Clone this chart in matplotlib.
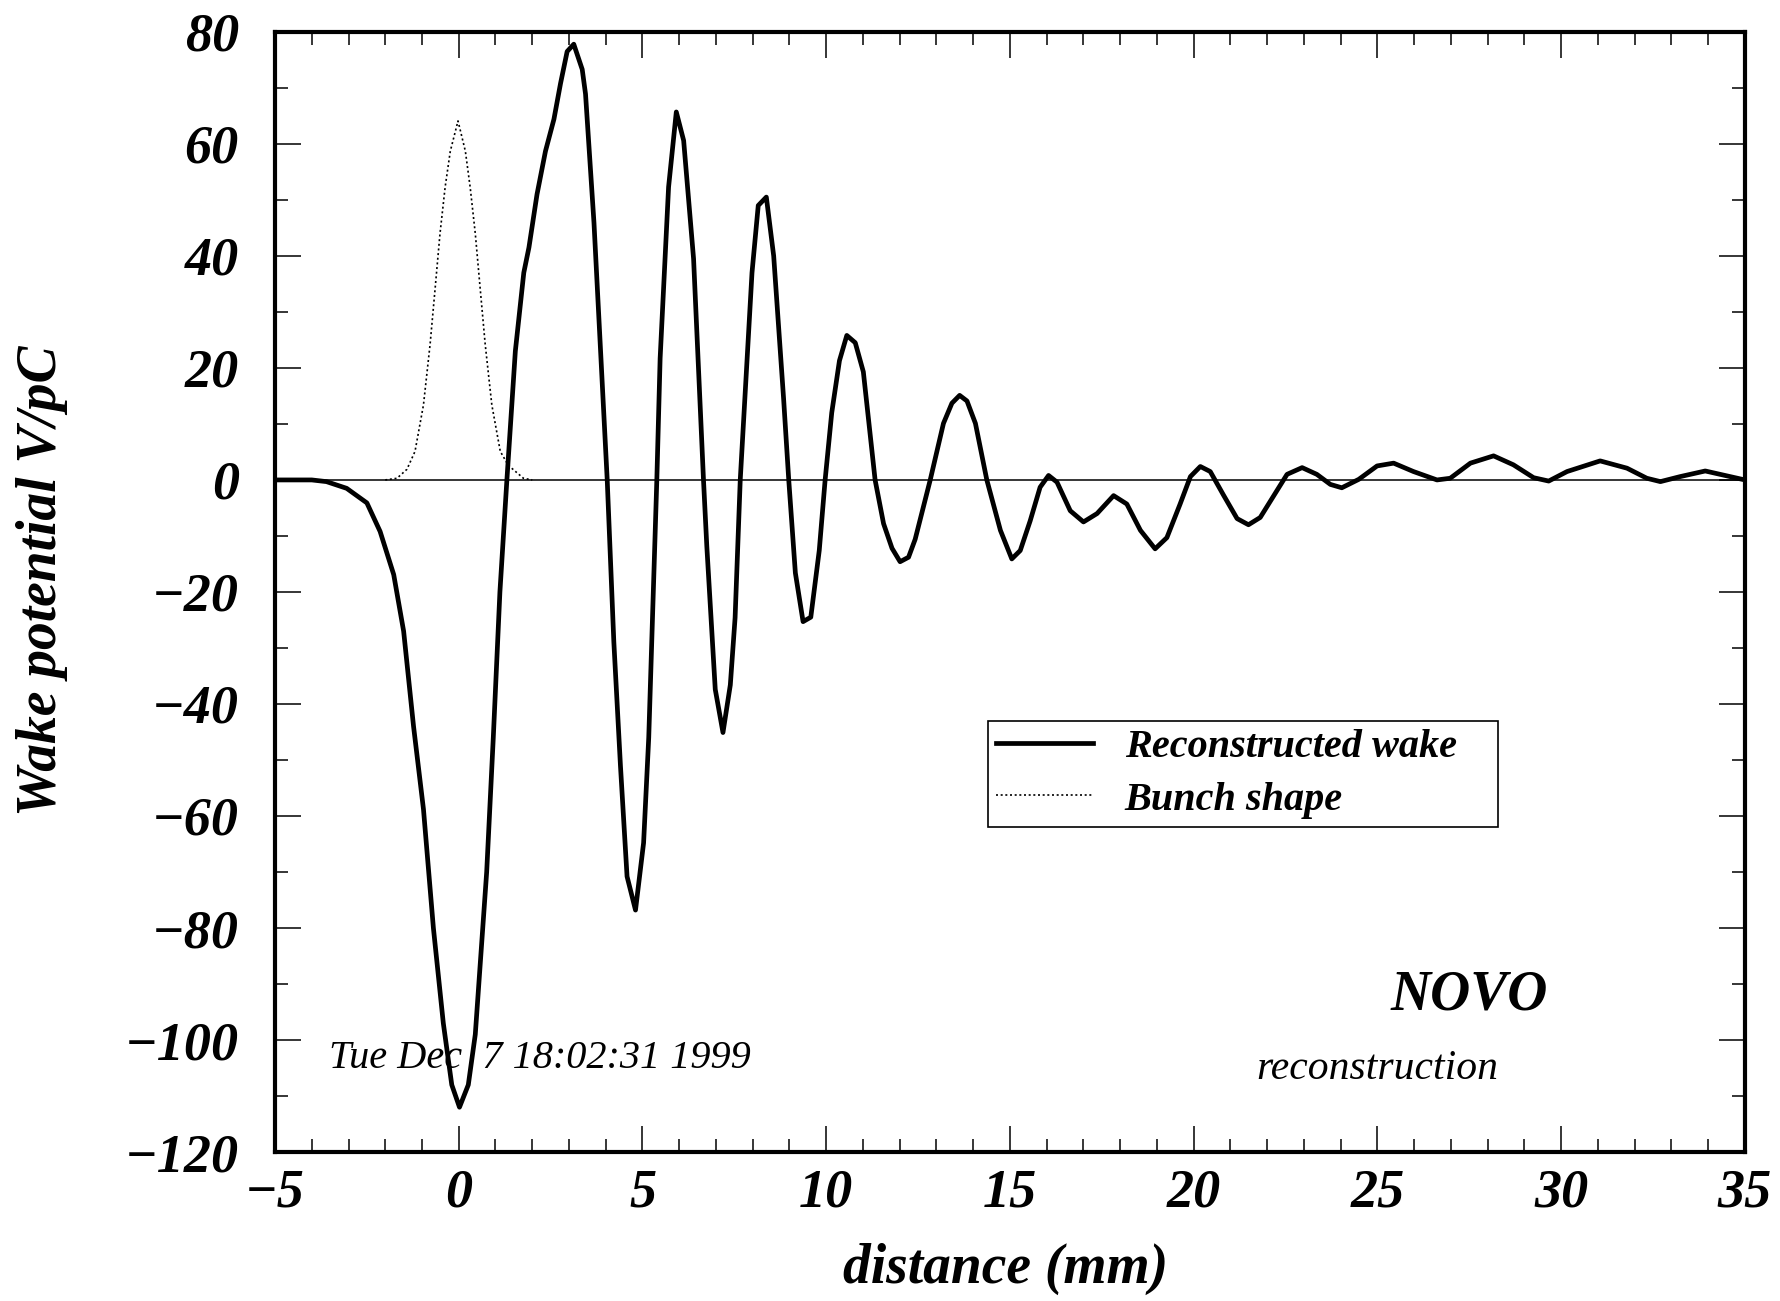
import matplotlib
matplotlib.use("Agg")
import matplotlib.pyplot as plt
from matplotlib.ticker import MultipleLocator

# reconstructed wake potential (V/pC) vs distance (mm)
wake_x = [-5.0, -4.0, -3.6, -3.05, -2.5, -2.14, -1.77, -1.5, -1.23, -0.96,
          -0.69, -0.42, -0.19, 0.02, 0.26, 0.45, 0.76, 0.94, 1.12, 1.31,
          1.54, 1.77, 1.91, 2.13, 2.36, 2.59, 2.77, 2.95, 3.13, 3.36,
          3.45, 3.68, 3.77, 4.04, 4.22, 4.40, 4.58, 4.81, 5.03, 5.17,
          5.39, 5.48, 5.71, 5.92, 6.12, 6.39, 6.66, 6.75, 6.98, 7.19,
          7.39, 7.52, 7.66, 7.98, 8.15, 8.37, 8.57, 8.84, 8.98, 9.16,
          9.37, 9.58, 9.81, 9.97, 10.15, 10.36, 10.56, 10.79, 11.01, 11.33,
          11.56, 11.79, 12.01, 12.24, 12.42, 12.83, 13.19, 13.42, 13.63, 13.83,
          14.06, 14.37, 14.74, 15.05, 15.28, 15.55, 15.82, 16.05, 16.28, 16.64,
          17.0, 17.37, 17.82, 18.18, 18.55, 18.95, 19.27, 19.63, 19.91, 20.18,
          20.45, 20.81, 21.18, 21.49, 21.81, 22.17, 22.54, 22.95, 23.35, 23.72,
          24.03, 24.49, 24.99, 25.44, 25.98, 26.62, 26.98, 27.53, 28.16, 28.7,
          29.25, 29.66, 30.16, 31.06, 31.79, 32.33, 32.7, 33.24, 33.92, 34.6,
          35.0]
wake_y = [0.0, 0.0, -0.3, -1.5, -4.1, -9.2, -16.9, -27.0, -44.0, -58.8,
          -80.0, -97.0, -108.0, -112.0, -108.0, -99.0, -70.0, -46.0, -20.0, 0.0,
          23.0, 37.0, 41.5, 51.0, 58.7, 64.4, 70.8, 76.5, 77.8, 73.3,
          68.9, 45.9, 34.4, 0.0, -28.9, -51.0, -70.8, -76.8, -64.8, -46.0,
          0.0, 21.7, 52.3, 65.7, 60.6, 39.5, 0.0, -11.8, -37.4, -45.1,
          -36.6, -24.6, 0.0, 37.0, 49.0, 50.5, 40.0, 14.5, 0.0, -16.6,
          -25.3, -24.5, -12.6, 0.0, 12.0, 21.3, 25.8, 24.5, 19.3, 0.0,
          -7.8, -12.2, -14.6, -13.8, -10.6, 0.0, 10.1, 13.7, 15.1, 14.1,
          10.1, 0.0, -9.0, -14.1, -12.6, -7.3, -1.3, 0.8, -0.4, -5.5,
          -7.5, -6.0, -2.8, -4.3, -9.0, -12.3, -10.3, -4.3, 0.6, 2.4,
          1.5, -2.7, -6.9, -8.0, -6.7, -2.9, 1.0, 2.2, 1.0, -0.8,
          -1.4, 0.1, 2.5, 3.0, 1.5, 0.0, 0.3, 3.0, 4.3, 2.7,
          0.4, -0.2, 1.5, 3.4, 2.1, 0.3, -0.3, 0.6, 1.6, 0.6,
          0.0]

# bunch shape (arbitrary units, scaled onto the same axis)
bunch_x = [-2.0, -1.68, -1.41, -1.19, -0.96, -0.78, -0.64, -0.51, -0.37, -0.23,
           -0.02, 0.18, 0.31, 0.45, 0.58, 0.72, 0.90, 1.13, 1.35, 1.76, 2.0]
bunch_y = [0.0, 0.3, 1.9, 5.1, 13.4, 24.2, 34.4, 44.0, 52.3, 58.7,
           64.1, 58.7, 52.3, 44.0, 34.4, 24.2, 13.4, 5.1, 2.6, 0.3, 0.0]

serif = "Liberation Serif"

fig = plt.figure(figsize=(17.8, 13.01), dpi=100)
ax = fig.add_axes([0.1545, 0.1145, 0.8258, 0.861])

ax.axhline(0, color="black", lw=1.1, zorder=1)
ax.plot(wake_x, wake_y, color="black", lw=3.4, solid_joinstyle="round",
        label="Reconstructed wake", zorder=3)
ax.plot(bunch_x, bunch_y, color="black", lw=1.2, linestyle=(0, (1.2, 1.6)),
        label="Bunch shape", zorder=2)

ax.set_xlim(-5, 35)
ax.set_ylim(-120, 80)
ax.xaxis.set_major_locator(MultipleLocator(5))
ax.xaxis.set_minor_locator(MultipleLocator(1))
ax.yaxis.set_major_locator(MultipleLocator(20))
ax.yaxis.set_minor_locator(MultipleLocator(10))

ax.tick_params(which="both", direction="in", top=True, right=True, width=1.1)
ax.tick_params(which="major", length=19)
ax.tick_params(which="minor", length=9.5)
ax.tick_params(axis="x", pad=12)
ax.tick_params(axis="y", pad=26)
for lab in ax.get_xticklabels() + ax.get_yticklabels():
    lab.set_fontfamily(serif)
    lab.set_fontstyle("italic")
    lab.set_fontweight("bold")
    lab.set_fontsize(39)

for sp in ax.spines.values():
    sp.set_linewidth(3)

ax.set_xlabel("distance (mm)", fontsize=40, family=serif, style="italic",
              weight="bold")
ax.set_ylabel("Wake potential V/pC", fontsize=40, family=serif, style="italic",
              weight="bold")
ax.xaxis.set_label_coords(0.497, -0.081)
ax.yaxis.set_label_coords(-0.141, 0.51)

leg = ax.legend(loc="upper left", bbox_to_anchor=(0.485, 0.296, 0.347, 0.089),
                mode="expand",
                prop={"family": serif, "style": "italic", "weight": "bold",
                      "size": 29},
                frameon=True, fancybox=False, framealpha=1, edgecolor="black",
                handlelength=2.4, handletextpad=0.8, borderpad=0.2,
                borderaxespad=0, labelspacing=0.38)
leg.get_frame().set_linewidth(1.2)

ax.text(-3.52, -105, "Tue Dec  7 18:02:31 1999", fontsize=29, family=serif,
        style="italic", ha="left", va="baseline")
ax.text(27.5, -94.5, "NOVO", fontsize=40, family=serif, style="italic",
        weight="bold", ha="center", va="baseline")
ax.text(25.0, -107, "reconstruction", fontsize=30, family=serif,
        style="italic", ha="center", va="baseline")

fig.savefig("out.png", dpi=100)
